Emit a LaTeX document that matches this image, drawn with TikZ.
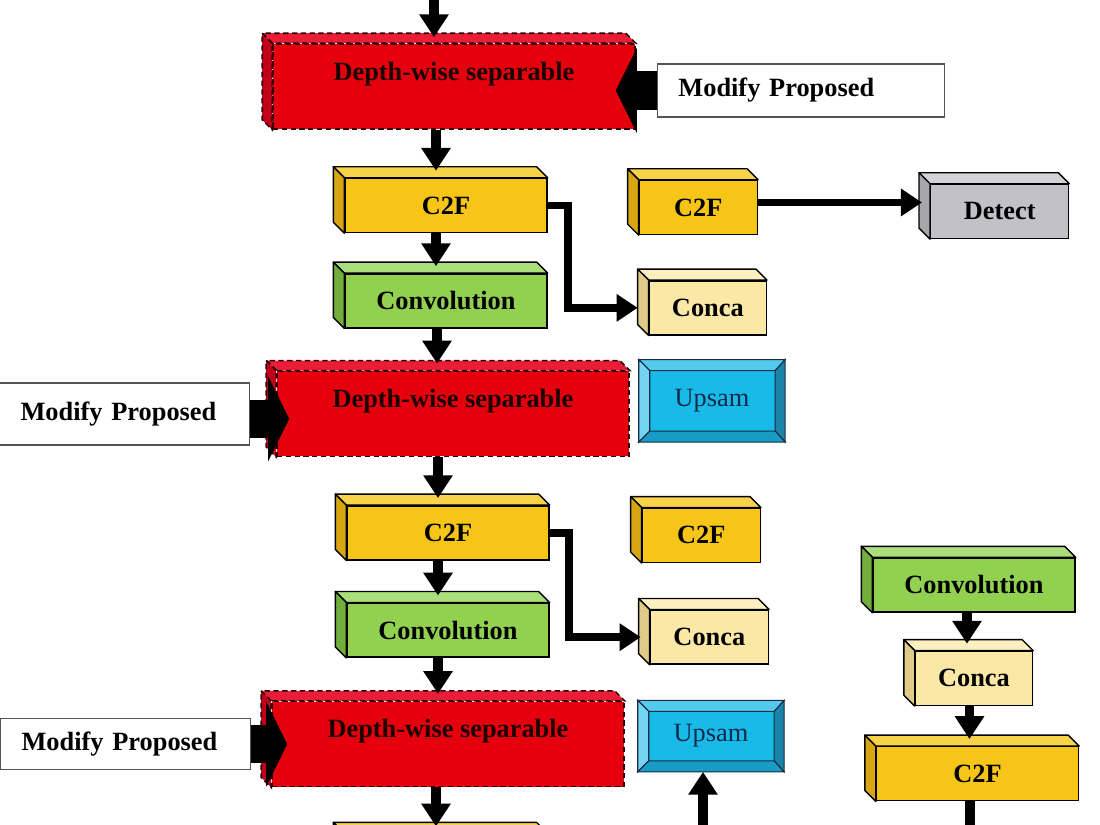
\documentclass[tikz,border=0pt]{standalone}
\usepackage{fontspec}
\setmainfont{Liberation Serif}
\usetikzlibrary{arrows.meta, positioning}
\definecolor{dwFront}{HTML}{E4000C}
\definecolor{dwTop}{HTML}{E91E36}
\definecolor{dwSide}{HTML}{C2001A}
\definecolor{dwLine}{HTML}{2A0004}
\definecolor{dwText}{HTML}{1C0000}
\definecolor{c2fFront}{HTML}{F6C518}
\definecolor{c2fTop}{HTML}{F8D34A}
\definecolor{c2fSide}{HTML}{D8A612}
\definecolor{convFront}{HTML}{92D050}
\definecolor{convTop}{HTML}{AADE7A}
\definecolor{convSide}{HTML}{72AE3C}
\definecolor{concaFront}{HTML}{FCE8A6}
\definecolor{concaTop}{HTML}{FDEFC0}
\definecolor{concaSide}{HTML}{E0CC88}
\definecolor{detFront}{HTML}{C2C2C6}
\definecolor{detTop}{HTML}{D3D3D6}
\definecolor{detSide}{HTML}{A6A6AB}
\definecolor{upFront}{HTML}{18BAE8}
\definecolor{upTop}{HTML}{55CAEF}
\definecolor{upLeft}{HTML}{74D4F2}
\definecolor{upRight}{HTML}{1A84A8}
\definecolor{upBottom}{HTML}{179CC6}
\definecolor{upLine}{HTML}{1A2A40}
\definecolor{upText}{HTML}{10284A}
\definecolor{mpLine}{HTML}{555555}
\begin{document}
\begin{tikzpicture}[x=0.02cm, y=-0.02cm]
\useasboundingbox (0,0) rectangle (1100,825);
\clip (0,0) rectangle (1100,825);
% Define block styles
\tikzstyle{block} = [rectangle, draw=black, line width=0.8pt, inner sep=0pt, font=\fontsize{15}{18}\selectfont\bfseries, text=black]
\tikzstyle{dwblock} = [block, fill=dwFront, draw=dwLine, line width=0.9pt, dash pattern=on 3pt off 2pt, minimum width=7.04cm, text height=0.72cm, text depth=0.98cm, text=dwText]
\tikzstyle{c2fblock} = [block, fill=c2fFront, minimum width=4.04cm, minimum height=1.08cm]
\tikzstyle{smallc2f} = [c2fblock, minimum width=2.36cm]
\tikzstyle{convblock} = [block, fill=convFront, minimum width=4.04cm, minimum height=1.08cm]
\tikzstyle{concablock} = [block, fill=concaFront, minimum width=2.34cm, minimum height=1.08cm]
\tikzstyle{detectblock} = [block, fill=detFront, minimum width=2.76cm, minimum height=1.08cm]
\tikzstyle{upsamblock} = [block, fill=upFront, draw=upLine, font=\fontsize{15}{18}\selectfont, text=upText, minimum width=2.9cm]
\tikzstyle{modify} = [block, draw=mpLine, fill=white, align=left, inner xsep=0.42cm]
\tikzstyle{face} = [draw=black, line width=0.8pt, line join=round]
\tikzstyle{dwface} = [draw=dwLine, line width=0.9pt, dash pattern=on 3pt off 2pt]
\tikzstyle{bevel} = [draw=upLine, line width=0.6pt]
\tikzstyle{arrow} = [-{Triangle[length=13pt,width=16pt]}, line width=5.5pt, draw=black]
\tikzstyle{elbowarrow} = [-{Triangle[length=12pt,width=15pt]}, line width=4.5pt, draw=black]
\tikzstyle{bigarrow} = [-{Triangle[length=12pt,width=48pt]}, line width=22pt, draw=black]
% Main column
\node[dwblock, minimum width=7.24cm] (DepthWise1) at (454,86.5) {Depth-wise separable};
\node[c2fblock, below=0.96cm of DepthWise1, xshift=-0.16cm] (C2F1) {C2F};
\node[convblock, below=0.8cm of C2F1] (Conv1) {Convolution};
\node[dwblock, below=0.84cm of Conv1, xshift=0.14cm] (DepthWise2) {Depth-wise separable};
\node[c2fblock, below=0.96cm of DepthWise2, xshift=-0.1cm] (C2F2) {C2F};
\node[convblock, below=0.84cm of C2F2] (Conv2) {Convolution};
\node[dwblock, below=0.86cm of Conv2] (DepthWise3) {Depth-wise separable};
\node[c2fblock, below=0.92cm of DepthWise3, xshift=-0.04cm] (C2F3) {};
% Side blocks
\node[modify, text width=4.9cm, minimum height=1.06cm, right=0.42cm of DepthWise1, yshift=-0.08cm] (Modify1) {Modify Proposed};
\node[smallc2f, right=1.82cm of C2F1, yshift=-0.04cm] (C2FSide1) {C2F};
\node[detectblock, right=3.44cm of C2FSide1, yshift=-0.08cm] (Detect) {Detect};
\node[concablock, right=2.02cm of Conv1, yshift=-0.14cm] (Conca1) {Conca};
\node[upsamblock, minimum height=1.62cm, right=0.18cm of DepthWise2, yshift=0.26cm] (Upsam1) {Upsam};
\node[modify, text width=4.16cm, minimum height=1.24cm, left=0.52cm of DepthWise2] (Modify2) {Modify Proposed};
\node[smallc2f, right=1.84cm of C2F2, yshift=-0.05cm] (C2FSide2) {C2F};
\node[concablock, minimum width=2.36cm, right=2cm of Conv2, yshift=-0.14cm] (Conca2) {Conca};
\node[modify, text width=4.16cm, minimum height=1.02cm, left=0.4cm of DepthWise3] (Modify3) {Modify Proposed};
\node[upsamblock, minimum height=1.4cm, right=0.26cm of DepthWise3, yshift=0.16cm] (Upsam2) {Upsam};
% Right column
\node[convblock] (Conv3) at (974,585) {Convolution};
\node[concablock, below=0.76cm of Conv3] (Conca3) {Conca};
\node[c2fblock, below=0.8cm of Conca3, xshift=0.07cm] (C2F4) {C2F};
% 3D faces
\foreach \nm/\clr in {C2F1/c2f, C2F2/c2f, C2F3/c2f, C2F4/c2f, C2FSide1/c2f, C2FSide2/c2f, Conv1/conv, Conv2/conv, Conv3/conv, Conca1/conca, Conca2/conca, Conca3/conca, Detect/det} {
  \draw[face, fill=\clr Top] (\nm.north west) -- ++(-11,-11) -- ([shift={(-11,-11)}]\nm.north east) -- (\nm.north east) -- cycle;
  \draw[face, fill=\clr Side] (\nm.north west) -- ++(-11,-11) -- ([shift={(-11,-11)}]\nm.south west) -- (\nm.south west) -- cycle;
}
\foreach \nm in {DepthWise1, DepthWise2, DepthWise3} {
  \draw[dwface, fill=dwTop] (\nm.north west) -- ++(-10,-10) -- ([shift={(-10,-10)}]\nm.north east) -- (\nm.north east) -- cycle;
  \draw[dwface, fill=dwSide] (\nm.north west) -- ++(-10,-10) -- ([shift={(-10,-10)}]\nm.south west) -- (\nm.south west) -- cycle;
}
% Bevelled upsampling blocks
\foreach \nm in {Upsam1, Upsam2} {
  \path (\nm.north west) coordinate (o1) (\nm.north east) coordinate (o2)
        (\nm.south east) coordinate (o3) (\nm.south west) coordinate (o4)
        ([shift={(11,11)}]\nm.north west) coordinate (i1) ([shift={(-10,11)}]\nm.north east) coordinate (i2)
        ([shift={(-10,-11)}]\nm.south east) coordinate (i3) ([shift={(11,-11)}]\nm.south west) coordinate (i4);
  \draw[bevel, fill=upTop] (o1) -- (o2) -- (i2) -- (i1) -- cycle;
  \draw[bevel, fill=upLeft] (o1) -- (i1) -- (i4) -- (o4) -- cycle;
  \draw[bevel, fill=upRight] (o2) -- (o3) -- (i3) -- (i2) -- cycle;
  \draw[bevel, fill=upBottom] (o4) -- (i4) -- (i3) -- (o3) -- cycle;
}
% Free ends
\coordinate (In1) at (434,-10);
\coordinate (In2) at (703,850);
\coordinate (Out1) at (970,850);
% Relationships (arrows)
\draw[arrow] (In1) -- ([yshift=0.12cm]In1 |- DepthWise1.north);
\draw[arrow] ([xshift=-0.2cm]C2F1.north |- DepthWise1.south) -- ([xshift=-0.2cm,yshift=0.14cm]C2F1.north);
\draw[arrow] ([xshift=-0.2cm]Conv1.north |- C2F1.south) -- ([xshift=-0.2cm,yshift=0.14cm]Conv1.north);
\draw[arrow] ([xshift=-0.32cm]DepthWise2.north |- Conv1.south) -- ([xshift=-0.32cm,yshift=0.14cm]DepthWise2.north);
\draw[arrow] ([xshift=-0.2cm]C2F2.north |- DepthWise2.south) -- ([xshift=-0.2cm,yshift=0.14cm]C2F2.north);
\draw[arrow] ([xshift=-0.2cm]Conv2.north |- C2F2.south) -- ([xshift=-0.2cm,yshift=0.14cm]Conv2.north);
\draw[arrow] ([xshift=-0.2cm]DepthWise3.north |- Conv2.south) -- ([xshift=-0.2cm,yshift=0.14cm]DepthWise3.north);
\draw[arrow] ([xshift=-0.2cm]C2F3.north |- DepthWise3.south) -- ([xshift=-0.2cm,yshift=0.14cm]C2F3.north);
\draw[arrow] ([xshift=-0.14cm]Conca3.north |- Conv3.south) -- ([xshift=-0.14cm,yshift=0.14cm]Conca3.north);
\draw[arrow] ([xshift=-0.16cm]C2F4.north |- Conca3.south) -- ([xshift=-0.16cm,yshift=0.14cm]C2F4.north);
\draw[arrow] (Out1 |- C2F4.south) -- (Out1);
\draw[arrow] (In2) -- (In2 |- Upsam2.south);
\draw[elbowarrow] (C2F1.east) -- ++(0.4cm,0) |- ([xshift=-0.22cm]Conca1.west);
\draw[elbowarrow] (C2F2.east) -- ++(0.38cm,0) |- ([xshift=-0.18cm]Conca2.west);
\draw[elbowarrow] ([yshift=0.1cm]C2FSide1.east) -- ([xshift=-0.16cm,yshift=0.1cm]C2FSide1.east -| Detect.west);
\draw[bigarrow] (Modify1.west) -- ([xshift=-0.4cm]Modify1.west -| DepthWise1.east);
\draw[bigarrow] ([yshift=-0.1cm]Modify2.east) -- ([xshift=0.26cm,yshift=-0.1cm]Modify2.east -| DepthWise2.west);
\draw[bigarrow] (Modify3.east) -- ([xshift=0.32cm]Modify3.east -| DepthWise3.west);
\end{tikzpicture}
\end{document}
